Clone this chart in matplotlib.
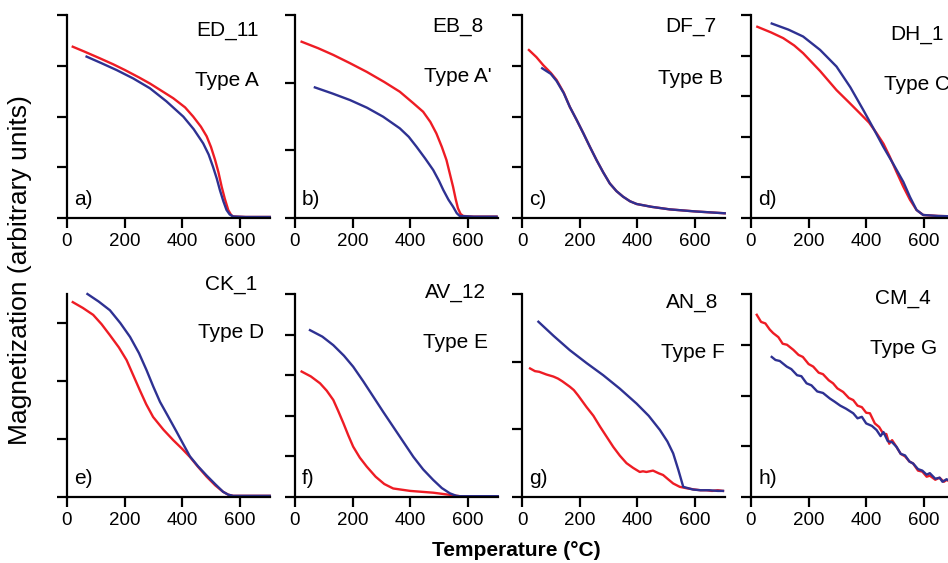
import matplotlib
matplotlib.use("Agg")
import matplotlib.pyplot as plt

plt.rcParams['font.family'] = ['Liberation Sans', 'DejaVu Sans']

RED = '#ee1c24'
BLUE = '#2e3192'

# sample names, types, panel letters (row-major)
names = ['ED_11', 'EB_8', 'DF_7', 'DH_1', 'CK_1', 'AV_12', 'AN_8', 'CM_4']
types = ['Type A', "Type A'", 'Type B', 'Type C', 'Type D', 'Type E', 'Type F', 'Type G']
letters = ['a)', 'b)', 'c)', 'd)', 'e)', 'f)', 'g)', 'h)']
# y axis top (arbitrary units) and number of y ticks for each panel
ytops = [4, 3, 4, 5, 3.5, 5, 3, 4]
nticks = [5, 4, 5, 6, 4, 6, 4, 5]

# heating (red) curves: temperature (deg C), magnetization
red_t = [
    [20, 60, 114, 160, 201, 250, 288, 330, 369, 410, 438, 465, 485, 500, 514, 526, 537, 548, 560, 570, 577, 620, 704],
    [23, 80, 133, 190, 249, 310, 364, 410, 445, 470, 491, 510, 526, 538, 549, 558, 566, 575, 584, 620, 700],
    [24, 50, 74, 100, 120, 145, 166, 190, 213, 236, 259, 282, 305, 328, 351, 375, 398, 450, 513, 600, 704],
    [22, 70, 112, 150, 181, 240, 297, 340, 378, 410, 436, 460, 482, 505, 529, 552, 575, 598, 650, 704],
    [20, 55, 91, 120, 149, 180, 207, 230, 253, 275, 299, 335, 369, 400, 427, 455, 485, 515, 542, 560, 577, 704],
    [23, 55, 87, 110, 133, 150, 168, 185, 202, 225, 249, 280, 310, 341, 400, 480, 530, 572, 704],
    [28, 45, 60, 85, 109, 125, 140, 166, 180, 195, 224, 248, 271, 294, 317, 340, 363, 386, 409, 420, 432,
     455, 475, 490, 508, 525, 548, 571, 600, 620, 640, 660, 680, 698],
    [20, 35, 50, 65, 77, 95, 110, 125, 147, 165, 180, 200, 216, 235, 250, 270, 285, 300, 320, 340, 355,
     370, 385, 400, 413, 430, 445, 459, 470, 480, 490, 505, 520, 535, 550, 563, 580, 595, 610, 621, 640,
     655, 670, 679, 695, 704],
]
red_m = [
    [3.375, 3.28, 3.147, 3.03, 2.916, 2.77, 2.65, 2.50, 2.36, 2.18, 2.00, 1.80, 1.61, 1.40, 1.15, 0.90,
     0.62, 0.38, 0.158, 0.06, 0.03, 0.02, 0.02],
    [2.605, 2.51, 2.41, 2.29, 2.16, 2.01, 1.866, 1.70, 1.57, 1.42, 1.25, 1.05, 0.857, 0.65, 0.46, 0.28,
     0.143, 0.06, 0.03, 0.02, 0.02],
    [3.31, 3.17, 3.01, 2.86, 2.72, 2.47, 2.19, 1.93, 1.67, 1.40, 1.14, 0.90, 0.68, 0.53, 0.42, 0.33,
     0.276, 0.22, 0.17, 0.13, 0.093],
    [4.71, 4.57, 4.43, 4.25, 4.06, 3.62, 3.15, 2.85, 2.58, 2.35, 2.09, 1.83, 1.51, 1.14, 0.77, 0.45,
     0.197, 0.074, 0.05, 0.04],
    [3.36, 3.26, 3.14, 2.98, 2.79, 2.58, 2.36, 2.10, 1.84, 1.60, 1.38, 1.16, 0.98, 0.83, 0.69, 0.52,
     0.35, 0.20, 0.09, 0.04, 0.02, 0.02],
    [3.09, 2.97, 2.80, 2.62, 2.39, 2.12, 1.82, 1.52, 1.24, 0.97, 0.75, 0.50, 0.32, 0.21, 0.15, 0.106,
     0.06, 0.02, 0.02],
    [1.90, 1.86, 1.85, 1.81, 1.78, 1.75, 1.71, 1.63, 1.58, 1.50, 1.33, 1.20, 1.04, 0.89, 0.74, 0.61,
     0.50, 0.43, 0.37, 0.38, 0.37, 0.39, 0.35, 0.325, 0.26, 0.20, 0.15, 0.13, 0.11, 0.10, 0.10, 0.09,
     0.10, 0.09],
    [3.59, 3.45, 3.42, 3.30, 3.23, 3.15, 3.02, 3.00, 2.90, 2.80, 2.76, 2.62, 2.57, 2.45, 2.42, 2.30,
     2.24, 2.14, 2.07, 1.95, 1.91, 1.80, 1.77, 1.66, 1.65, 1.45, 1.38, 1.25, 1.24, 1.05, 1.12, 0.99,
     0.85, 0.80, 0.70, 0.66, 0.52, 0.50, 0.40, 0.42, 0.34, 0.38, 0.30, 0.335, 0.30, 0.32],
]

# cooling (blue) curves
blue_t = [
    [68, 120, 172, 230, 288, 345, 404, 440, 473, 492, 507, 520, 531, 543, 554, 565, 577, 620, 704],
    [69, 130, 191, 250, 306, 364, 395, 422, 452, 480, 500, 515, 533, 549, 562, 572, 620, 700],
    [70, 100, 120, 145, 166, 190, 213, 236, 259, 282, 305, 328, 351, 375, 398, 450, 513, 600, 704],
    [72, 130, 181, 240, 297, 345, 390, 425, 459, 495, 529, 552, 575, 598, 650, 704],
    [71, 110, 149, 185, 219, 250, 276, 300, 323, 350, 380, 405, 427, 455, 485, 515, 542, 560, 577, 704],
    [52, 95, 133, 170, 202, 237, 272, 306, 341, 376, 411, 445, 480, 510, 538, 560, 572, 704],
    [57, 110, 166, 224, 282, 340, 398, 440, 479, 505, 525, 543, 560, 594, 620, 650, 680, 698],
    [72, 85, 100, 124, 140, 160, 175, 193, 210, 230, 250, 274, 290, 310, 330, 355, 370, 385, 400, 420,
     436, 450, 460, 475, 490, 505, 520, 535, 550, 563, 580, 595, 610, 621, 640, 655, 665, 679, 695, 704],
]
blue_m = [
    [3.18, 3.05, 2.916, 2.75, 2.556, 2.30, 1.997, 1.75, 1.47, 1.25, 1.01, 0.78, 0.55, 0.33, 0.158,
     0.07, 0.03, 0.02, 0.02],
    [1.93, 1.84, 1.743, 1.63, 1.497, 1.325, 1.20, 1.053, 0.88, 0.709, 0.55, 0.414, 0.27, 0.167, 0.07,
     0.03, 0.02, 0.02],
    [2.95, 2.84, 2.70, 2.46, 2.19, 1.93, 1.67, 1.40, 1.14, 0.90, 0.68, 0.53, 0.42, 0.33, 0.276, 0.22,
     0.17, 0.13, 0.093],
    [4.79, 4.64, 4.47, 4.14, 3.73, 3.22, 2.66, 2.21, 1.76, 1.32, 0.89, 0.52, 0.197, 0.074, 0.05, 0.04],
    [3.5, 3.37, 3.22, 3.00, 2.76, 2.48, 2.19, 1.90, 1.64, 1.40, 1.13, 0.90, 0.70, 0.53, 0.37, 0.22,
     0.09, 0.04, 0.02, 0.02],
    [4.11, 3.95, 3.74, 3.48, 3.21, 2.85, 2.47, 2.10, 1.73, 1.36, 0.99, 0.68, 0.42, 0.22, 0.09, 0.03,
     0.02, 0.02],
    [2.59, 2.38, 2.17, 1.98, 1.80, 1.60, 1.38, 1.20, 0.99, 0.82, 0.645, 0.40, 0.15, 0.11, 0.10, 0.10,
     0.09, 0.09],
    [2.76, 2.70, 2.68, 2.57, 2.52, 2.40, 2.38, 2.24, 2.20, 2.08, 2.05, 1.94, 1.88, 1.80, 1.74, 1.65,
     1.55, 1.58, 1.45, 1.40, 1.32, 1.20, 1.28, 1.10, 1.08, 0.99, 0.85, 0.82, 0.70, 0.66, 0.55, 0.52,
     0.44, 0.47, 0.36, 0.38, 0.30, 0.35, 0.30, 0.31],
]

W, H = 948, 563
fig = plt.figure(figsize=(W / 100, H / 100), dpi=100)

col_x = [67, 295, 522, 751]
row_y = [(15, 218), (294, 497)]
aw = 203

name_y = [30, 27, 27, 35, 285, 292, 302, 298]
type_y = [80, 77, 78, 85, 333, 342, 352, 348]
text_x = [0.79, 0.80, 0.83, 0.82, 0.81, 0.79, 0.84, 0.75]

for i in range(8):
    r, c = divmod(i, 4)
    top, bot = row_y[r]
    ax = fig.add_axes([col_x[c] / W, (H - bot) / H, aw / W, (bot - top) / H])
    ax.plot(red_t[i], red_m[i], color=RED, lw=1.7, clip_on=False)
    ax.plot(blue_t[i], blue_m[i], color=BLUE, lw=1.7, clip_on=False)
    ax.set_xlim(0, 705)
    ax.set_ylim(0, ytops[i])
    ax.set_xticks([0, 200, 400, 600])
    ax.set_yticks(list(range(nticks[i])))
    ax.set_yticklabels([])
    ax.tick_params(axis='both', direction='out', length=7, width=1.6, labelsize=13.5, pad=4)
    for s in ['top', 'right']:
        ax.spines[s].set_visible(False)
    for s in ['left', 'bottom']:
        ax.spines[s].set_linewidth(1.6)
    ax.patch.set_alpha(0)

    h = bot - top
    ax.text(text_x[i], (bot - name_y[i]) / h, names[i], transform=ax.transAxes,
            ha='center', va='center', fontsize=15, clip_on=False)
    ax.text(text_x[i], (bot - type_y[i]) / h, types[i], transform=ax.transAxes,
            ha='center', va='center', fontsize=15, clip_on=False)
    ax.text(0.035, 0.09, letters[i], transform=ax.transAxes,
            ha='left', va='center', fontsize=15)

fig.text(20 / W, 1 - 270 / H, 'Magnetization (arbitrary units)', rotation=90,
         ha='center', va='center', fontsize=19)
fig.text(516 / W, 1 - 550 / H, 'Temperature (°C)', ha='center', va='center',
         fontsize=15, fontweight='bold')

fig.savefig('out.png', dpi=100)
